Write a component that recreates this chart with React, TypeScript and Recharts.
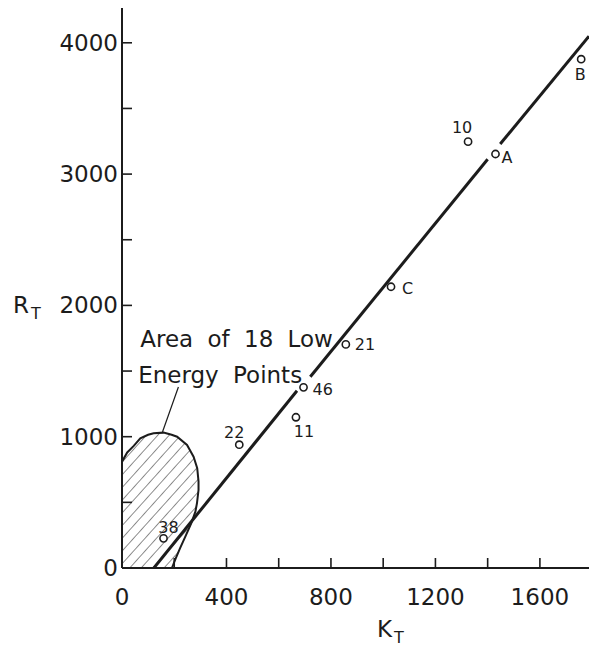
import { ScatterChart, Scatter, XAxis, YAxis } from 'recharts';

// measured points (K_T, R_T)
const pointNames = ['10', 'A', 'B', 'C', '21', '46', '11', '22', '38'];
const pointK = [1325, 1430, 1758, 1030, 857, 695, 666, 449, 159];
const pointR = [3247, 3153, 3875, 2142, 1703, 1376, 1148, 939, 226];

// regression line, drawn in three pieces (gaps at 46 and A)
const lineSeg1 = [{ x: 122, y: 0 }, { x: 670, y: 1350 }];
const lineSeg2 = [{ x: 721, y: 1457 }, { x: 1400, y: 3113 }];
const lineSeg3 = [{ x: 1448, y: 3229 }, { x: 1788, y: 4050 }];

// outline of the hatched low energy area
const areaK = [0, 0, 20, 45, 70, 100, 121, 159, 190, 211, 249, 274, 288, 293, 293, 287, 281, 265, 245, 222, 205, 191, 0];
const areaR = [0, 810, 880, 930, 988, 1015, 1026, 1031, 1015, 1000, 937, 848, 760, 660, 594, 493, 429, 340, 250, 150, 70, 0, 0];

const pointerLine = [{ x: 216, y: 1379 }, { x: 155, y: 1036 }];
const noteLines = ['Area of 18 Low', 'Energy Points'];
const noteK = [70, 62];
const noteR = [1683, 1409];

const xTicks = [0, 200, 400, 600, 800, 1000, 1200, 1400, 1600];
const yTicks = [0, 500, 1000, 1500, 2000, 2500, 3000, 3500, 4000];

const points = pointNames.map((n, i) => ({ name: n, x: pointK[i], y: pointR[i] }));
const area = areaK.map((k, i) => ({ x: k, y: areaR[i] }));
const notes = noteLines.map((t, i) => ({ text: t, x: noteK[i], y: noteR[i] }));

// where each point label sits relative to its circle
const labelPos: Record<string, { dx: number; dy: number; anchor: string }> = {
  '10': { dx: -6, dy: -9, anchor: 'middle' },
  A: { dx: 6, dy: 9, anchor: 'start' },
  B: { dx: -1, dy: 21, anchor: 'middle' },
  C: { dx: 11, dy: 7, anchor: 'start' },
  '21': { dx: 9, dy: 6, anchor: 'start' },
  '46': { dx: 9, dy: 8, anchor: 'start' },
  '11': { dx: 8, dy: 20, anchor: 'middle' },
  '22': { dx: -5, dy: -7, anchor: 'middle' },
  '38': { dx: 5, dy: -5, anchor: 'middle' },
};

const INK = '#1c1c1c';
const FONT = '"DejaVu Sans", sans-serif';

function YTick({ x, y, payload }: any) {
  const ax = x + 4;
  return (
    <g>
      {payload.value > 0 && <line x1={ax} y1={y} x2={ax + 10} y2={y} stroke={INK} strokeWidth={1.6} />}
      {payload.value % 1000 === 0 && (
        <text x={x} y={y} dy={8} textAnchor="end" fontSize={23} fontFamily={FONT} fill={INK}>
          {payload.value}
        </text>
      )}
    </g>
  );
}

function XTick({ x, y, payload }: any) {
  const ay = y - 6;
  return (
    <g>
      {payload.value > 0 && <line x1={x} y1={ay} x2={x} y2={ay - 10} stroke={INK} strokeWidth={1.6} />}
      {payload.value % 400 === 0 && (
        <text x={x} y={y} dy={31} textAnchor="middle" fontSize={23} fontFamily={FONT} fill={INK}>
          {payload.value}
        </text>
      )}
    </g>
  );
}

function AxisTitle({ viewBox, main, sub, ox, oy }: any) {
  return (
    <text x={viewBox.x + ox} y={viewBox.y + oy} fontSize={23} fontFamily={FONT} fill={INK}>
      {main}
      <tspan fontSize={16} dx={2} dy={6}>{sub}</tspan>
    </text>
  );
}

function PointShape({ cx, cy, payload }: any) {
  const p = labelPos[payload.name];
  return (
    <g>
      <circle cx={cx} cy={cy} r={3.6} fill="#fff" stroke={INK} strokeWidth={1.6} />
      <text x={cx + p.dx} y={cy + p.dy} textAnchor={p.anchor} fontSize={16} fontFamily={FONT} fill={INK}>
        {payload.name}
      </text>
    </g>
  );
}

function NoteShape({ cx, cy, payload }: any) {
  return (
    <text x={cx} y={cy} fontSize={23} fontFamily={FONT} fill={INK} wordSpacing={7}>
      {payload.text}
    </text>
  );
}

const noShape = () => <g />;

export default function App() {
  return (
    <div style={{ position: 'absolute', left: 0, top: 0, background: '#fff' }}>
      <ScatterChart width={589} height={650} margin={{ top: 8, right: 0, bottom: 0, left: 0 }}>
        <defs>
          <pattern id="hatch" patternUnits="userSpaceOnUse" width={8.5} height={8.5} patternTransform="rotate(42)">
            <line x1={0} y1={0} x2={0} y2={8.5} stroke={INK} strokeWidth={1} />
          </pattern>
        </defs>
        <XAxis
          type="number"
          dataKey="x"
          domain={[0, 1788]}
          ticks={xTicks}
          allowDataOverflow
          height={82}
          tickSize={0}
          tickMargin={6}
          tick={<XTick />}
          axisLine={{ stroke: INK, strokeWidth: 2 }}
          label={<AxisTitle main="K" sub="T" ox={255} oy={69} />}
        />
        <YAxis
          type="number"
          dataKey="y"
          domain={[0, 4265]}
          ticks={yTicks}
          allowDataOverflow
          width={122}
          tickSize={0}
          tickMargin={4}
          tick={<YTick />}
          axisLine={{ stroke: INK, strokeWidth: 2 }}
          label={<AxisTitle main="R" sub="T" ox={13} oy={305} />}
        />
        <Scatter
          data={area}
          line={{ stroke: INK, strokeWidth: 2, fill: 'url(#hatch)' }}
          lineType="joint"
          lineJointType="linear"
          shape={noShape}
          isAnimationActive={false}
        />
        {[lineSeg1, lineSeg2, lineSeg3].map((seg, i) => (
          <Scatter
            key={i}
            data={seg}
            line={{ stroke: INK, strokeWidth: 3 }}
            lineType="joint"
            shape={noShape}
            isAnimationActive={false}
          />
        ))}
        <Scatter
          data={pointerLine}
          line={{ stroke: INK, strokeWidth: 1.2 }}
          lineType="joint"
          shape={noShape}
          isAnimationActive={false}
        />
        <Scatter data={points} shape={<PointShape />} isAnimationActive={false} />
        <Scatter data={notes} shape={<NoteShape />} isAnimationActive={false} />
      </ScatterChart>
    </div>
  );
}
